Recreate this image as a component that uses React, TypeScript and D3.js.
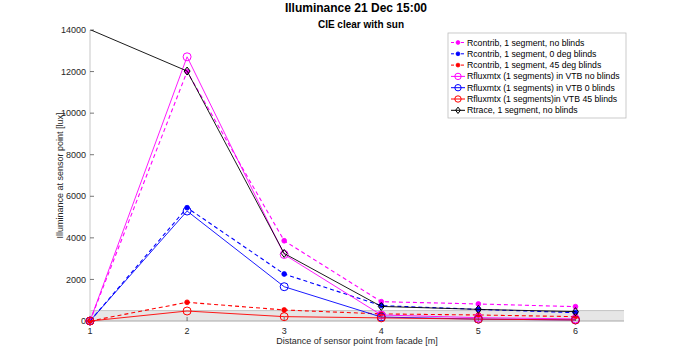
import React from "react";
import * as d3 from "d3";

const xs = [1, 2, 3, 4, 5, 6];
const rcNoBlinds = [0, 12000, 3860, 930, 820, 690];
const rc0Blinds = [0, 5450, 2260, 740, 560, 400];
const rc45Blinds = [0, 900, 530, 340, 290, 210];
const rfNoBlinds = [0, 12710, 3200, 290, 160, 100];
const rf0Blinds = [0, 5290, 1650, 190, 90, 50];
const rf45Blinds = [0, 480, 210, 150, 90, 50];
const rtNoBlinds = [14020, 12025, 3250, 700, 560, 450];
const yTicks = [0, 2000, 4000, 6000, 8000, 10000, 12000, 14000];
const xTicks = [1, 2, 3, 4, 5, 6];
const bandMax = 500;

const series = [
  { name: "Rcontrib, 1 segment, no blinds", values: rcNoBlinds, color: "#ff00ff", dash: "4,3", marker: "star" },
  { name: "Rcontrib, 1 segment, 0 deg blinds", values: rc0Blinds, color: "#0000ff", dash: "4,3", marker: "star" },
  { name: "Rcontrib, 1 segment, 45 deg blinds", values: rc45Blinds, color: "#ff0000", dash: "4,3", marker: "star" },
  { name: "Rfluxmtx (1 segments) in VTB no blinds", values: rfNoBlinds, color: "#ff00ff", dash: "", marker: "circle" },
  { name: "Rfluxmtx (1 segments) in VTB 0 blinds", values: rf0Blinds, color: "#0000ff", dash: "", marker: "circle" },
  { name: "Rfluxmtx (1 segments)in VTB 45 blinds", values: rf45Blinds, color: "#ff0000", dash: "", marker: "circle" },
  { name: "Rtrace, 1 segment, no blinds", values: rtNoBlinds, color: "#000000", dash: "", marker: "diamond" },
];

const L = 90, R = 624, T = 30, B = 321;
const font = "'Liberation Sans', Arial, sans-serif";

function Marker({ type, x, y, color, scale = 1 }: { type: string; x: number; y: number; color: string; scale?: number }) {
  if (type === "star") {
    return <circle cx={x} cy={y} r={2.4 * scale} fill={color} stroke={color} strokeWidth={0.8} />;
  }
  if (type === "circle") {
    return <circle cx={x} cy={y} r={4 * scale} fill="none" stroke={color} strokeWidth={1} />;
  }
  const s = 4 * scale;
  return (
    <path d={`M${x},${y - s}L${x + s * 0.75},${y}L${x},${y + s}L${x - s * 0.75},${y}Z`} fill="none" stroke={color} strokeWidth={1} />
  );
}

export default function App() {
  const x = d3.scaleLinear().domain([1, 6.5]).range([L, R]);
  const y = d3.scaleLinear().domain([0, 14000]).range([B, T]);
  const line = d3.line<number>().x((_, i) => x(xs[i])).y((d) => y(d));
  const yMax = y.domain()[1];

  const legX = 448, legY = 33, legW = 178, legH = 85, legStep = 11.3;

  return (
    <svg width={690} height={361} style={{ position: "absolute", left: 0, top: 0, background: "#fff" }} fontFamily={font}>
      <defs>
        <clipPath id="plot">
          <rect x={L - 6} y={T} width={R - L + 12} height={B - T + 6} />
        </clipPath>
      </defs>
      <rect x={0} y={0} width={690} height={361} fill="#fff" />
      <rect x={x(1)} y={y(bandMax)} width={R - L} height={B - y(bandMax)} fill="#e6e6e6" />
      <line x1={L} x2={R} y1={y(bandMax)} y2={y(bandMax)} stroke="#c4c4c4" strokeWidth={1} />
      <line x1={L} x2={L} y1={T} y2={B} stroke="#d0d0d0" strokeWidth={1.2} />
      <line x1={L} x2={R} y1={B} y2={B} stroke="#a8a8a8" strokeWidth={1.2} />
      {yTicks.map((t) => (
        <g key={t}>
          <line x1={L} x2={L + 4} y1={y(t)} y2={y(t)} stroke="#555" strokeWidth={0.8} />
          <text x={L - 4} y={y(t)} dy="0.35em" textAnchor="end" fontSize={9} fill="#262626">{t}</text>
        </g>
      ))}
      {xTicks.map((t) => (
        <g key={t}>
          <line x1={x(t)} x2={x(t)} y1={B} y2={B - 4} stroke="#555" strokeWidth={0.8} />
          <text x={x(t)} y={B + 13} textAnchor="middle" fontSize={9} fill="#262626">{t}</text>
        </g>
      ))}
      <text x={(L + R) / 2} y={344} textAnchor="middle" fontSize={9} fill="#262626">Distance of sensor point from facade [m]</text>
      <text transform={`translate(63,${(T + B) / 2}) rotate(-90)`} textAnchor="middle" fontSize={9} fill="#262626">Illuminance at sensor point [lux]</text>
      <text x={356} y={12} textAnchor="middle" fontSize={12} fontWeight="bold" fill="#000">Illuminance 21 Dec 15:00</text>
      <text x={361} y={28} textAnchor="middle" fontSize={10} fontWeight="bold" fill="#000">CIE clear with sun</text>
      <g clipPath="url(#plot)">
        {series.map((s) => (
          <g key={s.name}>
            <path d={line(s.values) || ""} fill="none" stroke={s.color} strokeWidth={s.dash ? 1.1 : 0.9} strokeDasharray={s.dash || undefined} />
            {s.values.map((v, i) =>
              v <= yMax ? <Marker key={i} type={s.marker} x={x(xs[i])} y={y(v)} color={s.color} /> : null
            )}
          </g>
        ))}
      </g>
      <rect x={legX} y={legY} width={legW} height={legH} fill="#fff" stroke="#bdbdbd" strokeWidth={0.8} />
      {series.map((s, i) => {
        const ly = legY + 9.5 + i * legStep;
        return (
          <g key={s.name}>
            <line x1={legX + 3} x2={legX + 17} y1={ly} y2={ly} stroke={s.color} strokeWidth={1} strokeDasharray={s.dash ? "3,2" : undefined} />
            <Marker type={s.marker} x={legX + 10} y={ly} color={s.color} scale={0.8} />
            <text x={legX + 19} y={ly} dy="0.35em" fontSize={8.7} fill="#000">{s.name}</text>
          </g>
        );
      })}
    </svg>
  );
}
